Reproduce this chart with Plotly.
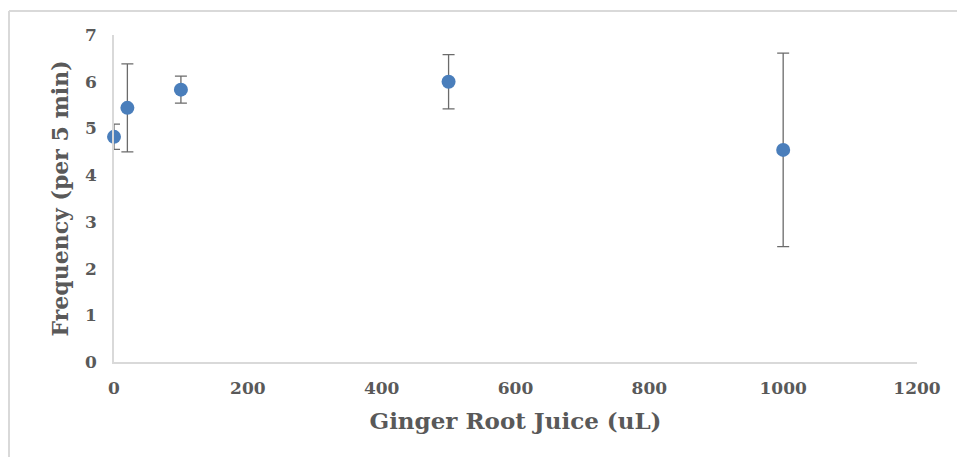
import plotly.graph_objects as go

x_vals = [0, 20, 100, 500, 1000]
y_vals = [4.82, 5.44, 5.83, 6.0, 4.54]
err_vals = [0.27, 0.94, 0.29, 0.58, 2.07]
x_ticks = [0, 200, 400, 600, 800, 1000, 1200]
y_ticks = [0, 1, 2, 3, 4, 5, 6, 7]

FONT = "DejaVu Serif"
GREY = "#595959"

fig = go.Figure()
fig.add_trace(go.Scatter(
    x=x_vals, y=y_vals, mode="markers", cliponaxis=False,
    marker=dict(size=14, color="#4A7EBB"),
    error_y=dict(type="data", array=err_vals, visible=True,
                 color="#6b6b6b", thickness=1.3, width=6),
    showlegend=False,
))

L, R, T, B = 114, 40, 35, 95
W, H = 957, 457
pw = W - L - R
ph = H - T - B

fig.update_layout(
    width=W, height=H,
    margin=dict(l=L, r=R, t=T, b=B),
    paper_bgcolor="white", plot_bgcolor="white",
    font=dict(family=FONT, color=GREY),
    xaxis=dict(
        range=[0, 1200], tickvals=x_ticks, showgrid=False, zeroline=False,
        showline=True, linecolor="#d9d9d9", linewidth=1.5, ticks="",
        tickfont=dict(family=FONT, size=17, color=GREY, weight="bold"),
        ticklabelstandoff=10,
        title=dict(text="<b>Ginger Root Juice (uL)</b>",
                   font=dict(family=FONT, size=23, color=GREY), standoff=16),
    ),
    yaxis=dict(
        range=[0, 7], tickvals=y_ticks, showgrid=False, zeroline=False,
        showline=True, linecolor="#d9d9d9", linewidth=1.5, ticks="",
        tickfont=dict(family=FONT, size=17, color=GREY, weight="bold"),
        ticklabelstandoff=12,
        title=dict(text="<b>Frequency (per 5 min)</b>",
                   font=dict(family=FONT, size=22, color=GREY), standoff=10),
    ),
    shapes=[
        dict(type="line", xref="paper", yref="paper",
             x0=(9 - L) / pw, x1=(W + 5 - L) / pw,
             y0=(H - B - 11) / ph, y1=(H - B - 11) / ph,
             line=dict(color="#d9d9d9", width=2)),
        dict(type="line", xref="paper", yref="paper",
             x0=(9 - L) / pw, x1=(9 - L) / pw,
             y0=(H - B - 11) / ph, y1=(H - B - H - 5) / ph,
             line=dict(color="#d9d9d9", width=2)),
    ],
)

fig.write_html("out.html")
